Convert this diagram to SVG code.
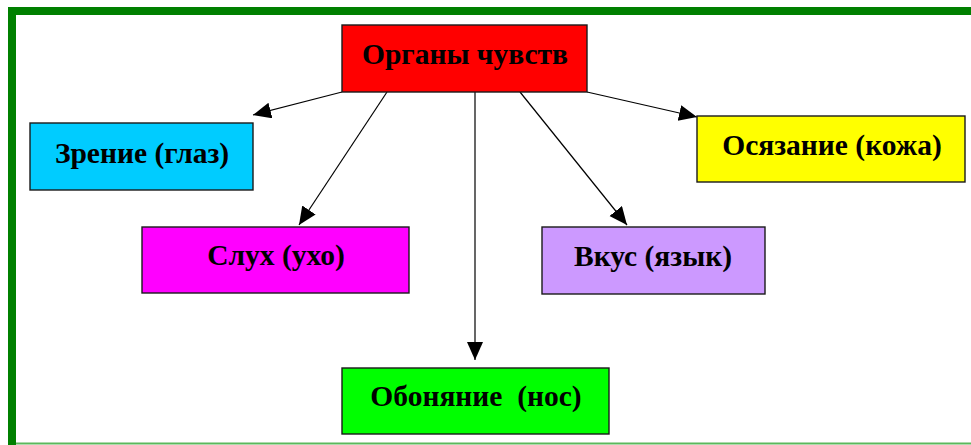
<svg xmlns="http://www.w3.org/2000/svg" width="971" height="445" viewBox="0 0 971 445">
  <style>
    .box { stroke: #1a1a1a; stroke-width: 1.4; }
    .lbl { font-family: "Liberation Serif", "Times New Roman", serif; font-weight: bold; font-size: 29.5px; fill: #000; text-anchor: middle; }
    .con { stroke: #000; stroke-width: 1.2; fill: none; marker-end: url(#arr); }
  </style>
  <defs>
    <marker id="arr" markerUnits="userSpaceOnUse" markerWidth="20" markerHeight="18" refX="18" refY="8" orient="auto">
      <path d="M0,0 L18,8 L0,16 Z" fill="#000"/>
    </marker>
  </defs>
  <rect x="0" y="0" width="971" height="445" fill="#fff"/>
  <g id="frame">
    <rect x="8" y="7" width="963" height="8" fill="#008000"/>
    <rect x="8" y="7" width="8" height="438" fill="#008000"/>
    <rect x="16" y="442.5" width="955" height="2" fill="#5cb85c"/>
  </g>
  <g id="connectors">
    <line class="con" x1="342" y1="92" x2="253" y2="115"/>
    <line class="con" x1="387" y1="92" x2="299" y2="225"/>
    <line class="con" x1="475" y1="92" x2="475" y2="360"/>
    <line class="con" x1="520" y1="92" x2="627" y2="225"/>
    <line class="con" x1="587" y1="92" x2="697" y2="117"/>
  </g>
  <g id="organs">
    <rect class="box" x="342" y="25" width="245" height="67" fill="#ff0000"/>
    <text class="lbl" x="465" y="63.5">Органы чувств</text>
  </g>
  <g id="vision">
    <rect class="box" x="30" y="123" width="223" height="67" fill="#00ccff"/>
    <text class="lbl" x="142" y="162.5">Зрение (глаз)</text>
  </g>
  <g id="hearing">
    <rect class="box" x="142" y="227" width="267" height="66" fill="#ff00ff"/>
    <text class="lbl" x="276" y="264.5">Слух (ухо)</text>
  </g>
  <g id="smell">
    <rect class="box" x="342" y="368" width="267" height="66" fill="#00ff00"/>
    <text class="lbl" x="476" y="405.5" xml:space="preserve">Обоняние  (нос)</text>
  </g>
  <g id="taste">
    <rect class="box" x="542" y="227" width="223" height="67" fill="#cc99ff"/>
    <text class="lbl" x="653" y="265.5">Вкус (язык)</text>
  </g>
  <g id="touch">
    <rect class="box" x="697" y="116" width="268" height="66" fill="#ffff00"/>
    <text class="lbl" x="832" y="154.5">Осязание (кожа)</text>
  </g>
</svg>
